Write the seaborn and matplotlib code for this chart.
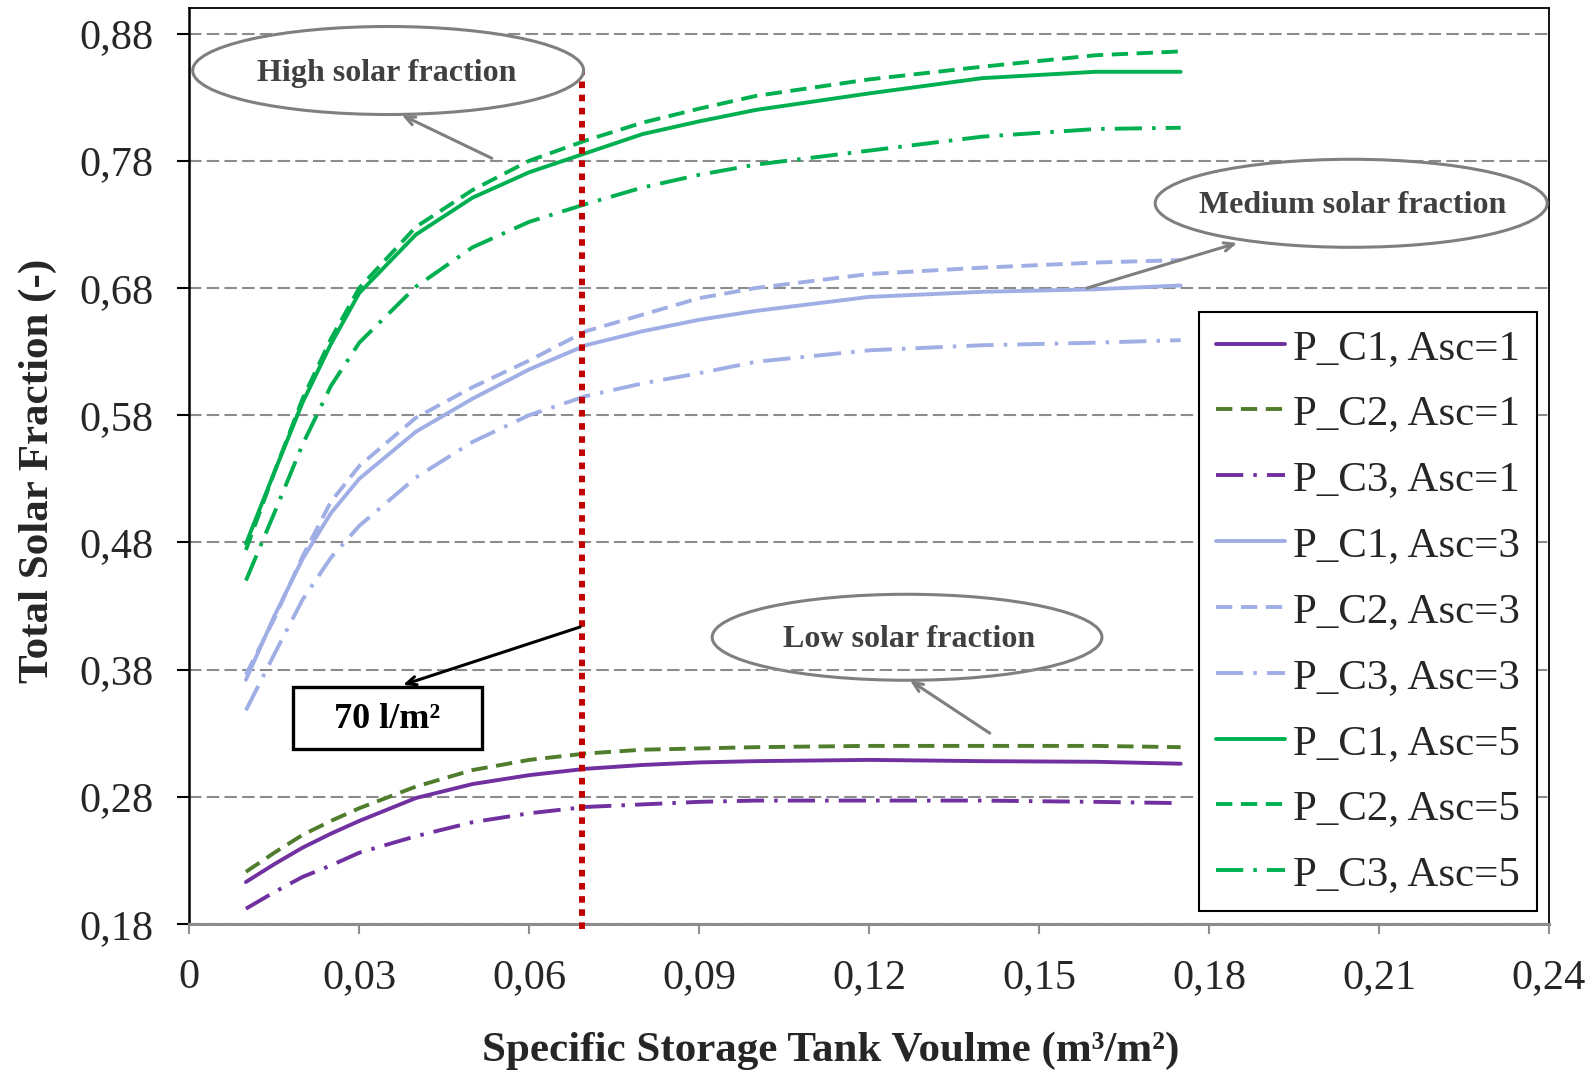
import matplotlib
matplotlib.use("Agg")
import matplotlib.pyplot as plt
import seaborn as sns
from matplotlib.patches import Ellipse, Rectangle

# data
volume = [0.01, 0.015, 0.02, 0.025, 0.03, 0.04, 0.05, 0.06, 0.07, 0.08,
          0.09, 0.10, 0.12, 0.14, 0.16, 0.175]

pc1_asc1 = [0.213, 0.227, 0.240, 0.251, 0.261, 0.279, 0.290, 0.297, 0.302, 0.305,
            0.307, 0.308, 0.309, 0.308, 0.3075, 0.306]
pc2_asc1 = [0.221, 0.236, 0.250, 0.261, 0.271, 0.288, 0.301, 0.309, 0.314, 0.317,
            0.318, 0.319, 0.320, 0.320, 0.320, 0.319]
pc3_asc1 = [0.192, 0.205, 0.217, 0.226, 0.236, 0.249, 0.260, 0.267, 0.272, 0.274,
            0.276, 0.277, 0.277, 0.277, 0.276, 0.275]

pc1_asc3 = [0.372, 0.422, 0.467, 0.503, 0.530, 0.567, 0.593, 0.616, 0.635, 0.646,
            0.655, 0.662, 0.673, 0.677, 0.679, 0.682]
pc2_asc3 = [0.376, 0.420, 0.469, 0.512, 0.540, 0.578, 0.602, 0.623, 0.646, 0.659,
            0.672, 0.680, 0.691, 0.696, 0.700, 0.702]
pc3_asc3 = [0.348, 0.392, 0.435, 0.468, 0.493, 0.531, 0.559, 0.580, 0.595, 0.605,
            0.613, 0.622, 0.631, 0.635, 0.637, 0.639]

pc1_asc5 = [0.479, 0.535, 0.590, 0.636, 0.676, 0.722, 0.751, 0.771, 0.786, 0.801,
            0.811, 0.820, 0.833, 0.845, 0.850, 0.850]
pc2_asc5 = [0.474, 0.535, 0.593, 0.640, 0.680, 0.728, 0.757, 0.780, 0.796, 0.810,
            0.821, 0.831, 0.844, 0.854, 0.863, 0.866]
pc3_asc5 = [0.450, 0.503, 0.557, 0.603, 0.637, 0.681, 0.712, 0.732, 0.746, 0.759,
            0.769, 0.777, 0.788, 0.799, 0.805, 0.806]

x_ticks = [0, 0.03, 0.06, 0.09, 0.12, 0.15, 0.18, 0.21, 0.24]
y_ticks = [0.18, 0.28, 0.38, 0.48, 0.58, 0.68, 0.78, 0.88]
design_volume = 0.0693   # 70 l/m2 marker

purple = "#7030A0"
olive = "#4F7D2B"
lavender = "#A0AEE6"
green = "#00B050"

solid = "-"
dashed = (0, (4.2, 2.2))
dashdot = (0, (7, 2.6, 0.9, 2.6))

series = [
    ("P_C1, Asc=1", pc1_asc1, purple, solid),
    ("P_C2, Asc=1", pc2_asc1, olive, dashed),
    ("P_C3, Asc=1", pc3_asc1, purple, dashdot),
    ("P_C1, Asc=3", pc1_asc3, lavender, solid),
    ("P_C2, Asc=3", pc2_asc3, lavender, dashed),
    ("P_C3, Asc=3", pc3_asc3, lavender, dashdot),
    ("P_C1, Asc=5", pc1_asc5, green, solid),
    ("P_C2, Asc=5", pc2_asc5, green, dashed),
    ("P_C3, Asc=5", pc3_asc5, green, dashdot),
]

sns.set_style("white")
plt.rcParams["font.family"] = ["Liberation Serif", "DejaVu Serif"]

fig = plt.figure(figsize=(15.96, 10.76), dpi=100)
ax = fig.add_axes([0.1186, 0.1413, 0.8519, 0.8511])

for label, vals, col, ls in series:
    sns.lineplot(x=volume, y=vals, color=col, linestyle=ls, linewidth=2.8,
                 label=label, ax=ax, zorder=3)

ax.set_xlim(0, 0.24)
ax.set_ylim(0.18, 0.9)
ax.set_xticks(x_ticks)
ax.set_xticklabels(["0" if v == 0 else f"{v:.2f}".replace(".", ",") for v in x_ticks])
ax.set_yticks(y_ticks)
ax.set_yticklabels([f"{v:.2f}".replace(".", ",") for v in y_ticks])

ax.grid(axis="y", color="#8C8C8C", linestyle=(0, (6, 2.5)), linewidth=1.5)
ax.grid(axis="x", visible=False)
ax.set_axisbelow(True)

for s in ["top", "right", "left"]:
    ax.spines[s].set_color("black")
    ax.spines[s].set_linewidth(1.3)
ax.spines["left"].set_linewidth(1.8)
ax.spines["bottom"].set_color("#8C8C8C")
ax.spines["bottom"].set_linewidth(2.2)

ax.tick_params(axis="y", direction="out", length=9, width=1.5, color="black",
               pad=17, labelsize=30.5, left=True)
ax.tick_params(axis="x", direction="out", length=7, width=1.5, color="#8C8C8C",
               pad=18, labelsize=30.5, bottom=True)

ax.set_xlabel("Specific Storage Tank Voulme (m³/m²)", fontsize=31, fontweight="bold")
ax.set_ylabel("Total Solar Fraction (-)", fontsize=31, fontweight="bold")
ax.xaxis.set_label_coords(0.472, -0.117)
ax.yaxis.set_label_coords(-0.0975, 0.495)

# red dotted design line
ax.plot([design_volume, design_volume], [0.176, 0.852], color="#C00000",
        linestyle=(0, (1.1, 1.1)), linewidth=4.3, zorder=4, clip_on=False)

gray = "#7F7F7F"
txt_gray = "#404040"

# callouts
ax.add_patch(Ellipse((0.0351, 0.851), 0.0690, 0.0692, facecolor="white",
                     edgecolor=gray, linewidth=2.2, zorder=5))
ax.text(0.0348, 0.849, "High solar fraction", ha="center", va="center",
        fontsize=23, fontweight="bold", color=txt_gray, zorder=6)
ax.annotate("", xy=(0.0375, 0.816), xytext=(0.0534, 0.782),
            arrowprops=dict(arrowstyle="->,head_length=0.7,head_width=0.3",
                            color=gray, lw=2.2, shrinkA=0, shrinkB=0), zorder=6)

ax.add_patch(Ellipse((0.2051, 0.7466), 0.0692, 0.0692, facecolor="white",
                     edgecolor=gray, linewidth=2.2, zorder=5))
ax.text(0.2054, 0.7446, "Medium solar fraction", ha="center", va="center",
        fontsize=23, fontweight="bold", color=txt_gray, zorder=6)
ax.annotate("", xy=(0.1850, 0.7154), xytext=(0.1585, 0.680),
            arrowprops=dict(arrowstyle="->,head_length=0.7,head_width=0.3",
                            color=gray, lw=2.2, shrinkA=0, shrinkB=0), zorder=6)

ax.add_patch(Ellipse((0.1267, 0.4054), 0.0688, 0.0676, facecolor="white",
                     edgecolor=gray, linewidth=2.2, zorder=0.4))
ax.text(0.1270, 0.4034, "Low solar fraction", ha="center", va="center",
        fontsize=23, fontweight="bold", color=txt_gray, zorder=6)
ax.annotate("", xy=(0.1272, 0.3715), xytext=(0.1413, 0.330),
            arrowprops=dict(arrowstyle="->,head_length=0.7,head_width=0.3",
                            color=gray, lw=2.2, shrinkA=0, shrinkB=0), zorder=6)

ax.add_patch(Rectangle((0.0183, 0.3176), 0.0334, 0.0487, facecolor="white",
                       edgecolor="black", linewidth=2.4, zorder=5))
ax.text(0.0350, 0.3405, "70 l/m²", ha="center", va="center",
        fontsize=26, fontweight="bold", color="black", zorder=6)
ax.annotate("", xy=(0.0377, 0.3679), xytext=(0.0690, 0.4135),
            arrowprops=dict(arrowstyle="->,head_length=0.7,head_width=0.3",
                            color="black", lw=2.2, shrinkA=0, shrinkB=0), zorder=6)

leg = ax.legend(loc="upper right", bbox_to_anchor=(0.991, 0.668), fontsize=31,
                frameon=True, fancybox=False, framealpha=1, edgecolor="black",
                handlelength=1.6, handletextpad=0.2, labelspacing=0.62,
                borderpad=0.38, borderaxespad=0)
leg.get_frame().set_linewidth(1.5)
leg.set_zorder(7)

fig.savefig("out.png", dpi=100)
